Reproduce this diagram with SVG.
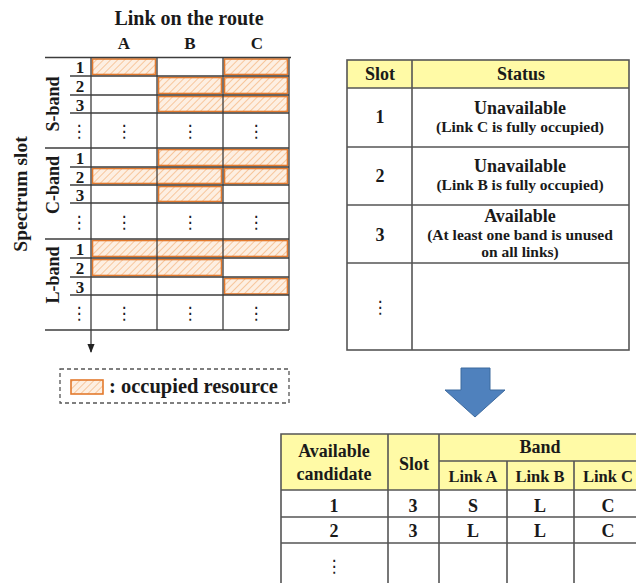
<svg xmlns="http://www.w3.org/2000/svg" width="636" height="583" viewBox="0 0 636 583">
<style>
text{font-family:"Liberation Serif","Times New Roman",serif;font-weight:bold;fill:#1a1a1a}
.c{text-anchor:middle}
.dots{font-family:"DejaVu Sans",sans-serif;font-weight:normal;text-anchor:middle;font-size:17px}
.g{stroke:#3c3c3c;stroke-width:1.3;fill:none}
.occ{fill:url(#hatch);stroke:#E37A2E;stroke-width:1.6}
.tb{stroke:#555;stroke-width:1.6;fill:none}
.hd{fill:#FFFAA6}
</style>
<defs>
<pattern id="hatch" patternUnits="userSpaceOnUse" width="5" height="5" patternTransform="rotate(45)">
<rect width="5" height="5" fill="#FDEFE2"/>
<line x1="0" y1="0" x2="0" y2="5" stroke="#F6BC8A" stroke-width="1.6"/>
</pattern>
<marker id="arr" viewBox="0 0 10 10" refX="9" refY="5" markerWidth="7" markerHeight="7" orient="auto">
<path d="M0,1 L10,5 L0,9 z" fill="#222"/>
</marker>
</defs>

<!-- Titles -->
<g id="title">
<text class="c" x="189" y="25" font-size="20">Link on the route</text>
<text class="c" x="124" y="49" font-size="17">A</text>
<text class="c" x="190" y="49" font-size="17">B</text>
<text class="c" x="257" y="49" font-size="17">C</text>
<text class="c" x="0" y="0" font-size="19.5" transform="translate(27,194) rotate(-90)">Spectrum slot</text>
</g>

<!-- Occupied resources -->
<g id="occupied">
<rect class="occ" x="92.5" y="59" width="63" height="15.5"/>
<rect class="occ" x="224.5" y="59" width="63" height="15.5"/>
<rect class="occ" x="158.5" y="77.5" width="63" height="16"/>
<rect class="occ" x="224.5" y="77.5" width="63" height="16"/>
<rect class="occ" x="158.5" y="96.5" width="129" height="15"/>
<rect class="occ" x="158.5" y="149.5" width="129" height="16"/>
<rect class="occ" x="92.5" y="168.5" width="129" height="15"/>
<rect class="occ" x="224.5" y="168.5" width="63" height="15"/>
<rect class="occ" x="158.5" y="186.5" width="63" height="15"/>
<rect class="occ" x="92.5" y="240.5" width="195" height="16"/>
<rect class="occ" x="92.5" y="259.5" width="129" height="16"/>
<rect class="occ" x="224.5" y="278.5" width="63" height="15.5"/>
</g>

<!-- Grid -->
<g id="grid">
<line class="g" x1="45" y1="57.5" x2="291" y2="57.5"/>
<line class="g" x1="70" y1="76" x2="289" y2="76"/>
<line class="g" x1="70" y1="95" x2="289" y2="95"/>
<line class="g" x1="70" y1="113" x2="289" y2="113"/>
<line class="g" x1="45" y1="148" x2="289" y2="148"/>
<line class="g" x1="70" y1="167" x2="289" y2="167"/>
<line class="g" x1="70" y1="185" x2="289" y2="185"/>
<line class="g" x1="70" y1="203" x2="289" y2="203"/>
<line class="g" x1="45" y1="239" x2="289" y2="239"/>
<line class="g" x1="70" y1="258" x2="289" y2="258"/>
<line class="g" x1="70" y1="277" x2="289" y2="277"/>
<line class="g" x1="70" y1="295" x2="289" y2="295"/>
<line class="g" x1="45" y1="330" x2="289" y2="330"/>
<line class="g" x1="157" y1="57.5" x2="157" y2="330"/>
<line class="g" x1="223" y1="57.5" x2="223" y2="330"/>
<line class="g" x1="289" y1="57.5" x2="289" y2="330"/>
<line class="g" x1="91" y1="57.5" x2="91" y2="352" marker-end="url(#arr)"/>
</g>

<!-- Band labels and slot numbers -->
<g id="s-band">
<text class="c" font-size="18" transform="translate(59,104) rotate(-90)">S-band</text>
<text class="c" x="80" y="73" font-size="17">1</text>
<text class="c" x="80" y="92" font-size="17">2</text>
<text class="c" x="80" y="110.5" font-size="17">3</text>
<text class="dots" x="79" y="137">⋮</text>
<text class="dots" x="124" y="137">⋮</text>
<text class="dots" x="190" y="137">⋮</text>
<text class="dots" x="256" y="137">⋮</text>
</g>
<g id="c-band">
<text class="c" font-size="18" transform="translate(59,185) rotate(-90)">C-band</text>
<text class="c" x="80" y="164" font-size="17">1</text>
<text class="c" x="80" y="183" font-size="17">2</text>
<text class="c" x="80" y="201" font-size="17">3</text>
<text class="dots" x="79" y="228">⋮</text>
<text class="dots" x="124" y="228">⋮</text>
<text class="dots" x="190" y="228">⋮</text>
<text class="dots" x="256" y="228">⋮</text>
</g>
<g id="l-band">
<text class="c" font-size="18" transform="translate(59,275) rotate(-90)">L-band</text>
<text class="c" x="80" y="255" font-size="17">1</text>
<text class="c" x="80" y="274" font-size="17">2</text>
<text class="c" x="80" y="292.5" font-size="17">3</text>
<text class="dots" x="79" y="319">⋮</text>
<text class="dots" x="124" y="319">⋮</text>
<text class="dots" x="190" y="319">⋮</text>
<text class="dots" x="256" y="319">⋮</text>
</g>

<!-- Legend -->
<g id="legend">
<rect x="60" y="369" width="229" height="34" fill="none" stroke="#555" stroke-width="1.3" stroke-dasharray="4,3"/>
<rect class="occ" x="71" y="380" width="32" height="14" stroke-width="1.3"/>
<text x="109" y="393" font-size="20.5">: occupied resource</text>
</g>

<!-- Status table -->
<g id="status-table">
<rect class="hd" x="347" y="60" width="282" height="28"/>
<rect class="tb" x="347" y="60" width="282" height="290"/>
<line class="tb" x1="412" y1="60" x2="412" y2="350"/>
<line class="tb" x1="347" y1="88" x2="629" y2="88"/>
<line class="tb" x1="347" y1="147" x2="629" y2="147"/>
<line class="tb" x1="347" y1="205" x2="629" y2="205"/>
<line class="tb" x1="347" y1="263" x2="629" y2="263"/>
<text class="c" x="380" y="80" font-size="18">Slot</text>
<text class="c" x="521" y="80" font-size="18">Status</text>
<text class="c" x="380" y="123" font-size="18">1</text>
<text class="c" x="520" y="114" font-size="18">Unavailable</text>
<text class="c" x="520" y="132" font-size="15.5">(Link C is fully occupied)</text>
<text class="c" x="380" y="182" font-size="18">2</text>
<text class="c" x="520" y="172" font-size="18">Unavailable</text>
<text class="c" x="520" y="190" font-size="15.5">(Link B is fully occupied)</text>
<text class="c" x="380" y="241" font-size="18">3</text>
<text class="c" x="520" y="222" font-size="18">Available</text>
<text class="c" x="520" y="240" font-size="15.5">(At least one band is unused</text>
<text class="c" x="520" y="257" font-size="15.5">on all links)</text>
<text class="dots" x="380" y="313">⋮</text>
</g>

<!-- Blue arrow -->
<g id="down-arrow">
<path d="M461,368 L490,368 L490,390 L505,390 L475,417 L445,390 L461,390 Z" fill="#4F81BD" stroke="#3D6A9E" stroke-width="1"/>
</g>

<!-- Candidate table -->
<g id="candidate-table">
<rect class="hd" x="281" y="434" width="360" height="56"/>
<path class="tb" d="M641,434 L281,434 L281,590"/>
<line class="tb" x1="388" y1="434" x2="388" y2="590"/>
<line class="tb" x1="439" y1="434" x2="439" y2="590"/>
<line class="tb" x1="507" y1="461" x2="507" y2="590"/>
<line class="tb" x1="574" y1="461" x2="574" y2="590"/>
<line class="tb" x1="439" y1="461" x2="641" y2="461"/>
<line class="tb" x1="281" y1="490" x2="641" y2="490"/>
<line class="tb" x1="281" y1="517" x2="641" y2="517"/>
<line class="tb" x1="281" y1="543" x2="641" y2="543"/>
<text class="c" x="334" y="457" font-size="18">Available</text>
<text class="c" x="334" y="480" font-size="18">candidate</text>
<text class="c" x="414" y="470" font-size="18">Slot</text>
<text class="c" x="540" y="453" font-size="18">Band</text>
<text class="c" x="473" y="482" font-size="16.5">Link A</text>
<text class="c" x="540" y="482" font-size="16.5">Link B</text>
<text class="c" x="608" y="482" font-size="16.5">Link C</text>
<text class="c" x="334" y="512" font-size="18">1</text>
<text class="c" x="413" y="512" font-size="18">3</text>
<text class="c" x="473" y="512" font-size="18">S</text>
<text class="c" x="540" y="512" font-size="18">L</text>
<text class="c" x="608" y="512" font-size="18">C</text>
<text class="c" x="334" y="537" font-size="18">2</text>
<text class="c" x="413" y="537" font-size="18">3</text>
<text class="c" x="473" y="537" font-size="18">L</text>
<text class="c" x="540" y="537" font-size="18">L</text>
<text class="c" x="608" y="537" font-size="18">C</text>
<text class="dots" x="334" y="572">⋮</text>
</g>
</svg>
